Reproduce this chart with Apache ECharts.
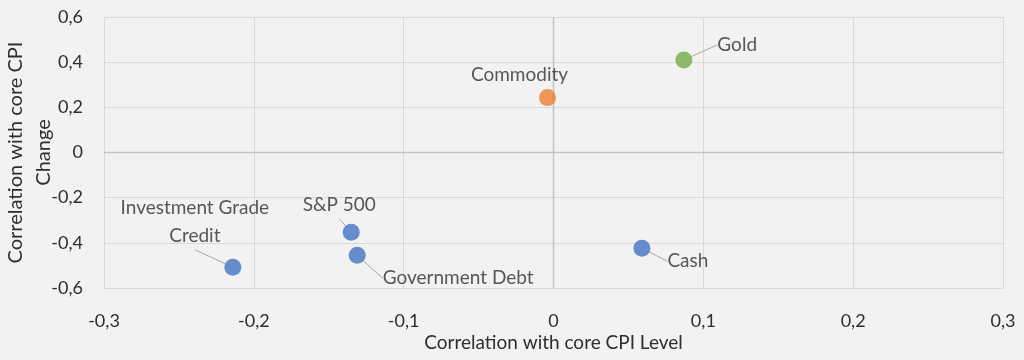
<!DOCTYPE html>
<html>
<head>
<meta charset="utf-8">
<script src="https://cdn.jsdelivr.net/npm/echarts@6/dist/echarts.min.js"></script>
<style>
html,body{margin:0;padding:0;background:#f2f2f2;}
#c{width:1024px;height:360px;}
</style>
</head>
<body>
<div id="c"></div>
<script>
const names = ['Investment Grade\nCredit', 'S&P 500', 'Government Debt', 'Cash', 'Commodity', 'Gold'];
const xValues = [-0.214, -0.135, -0.131, 0.059, -0.004, 0.087];
const yValues = [-0.508, -0.353, -0.455, -0.424, 0.243, 0.41];
const pointColors = ['#4472c4', '#4472c4', '#4472c4', '#4472c4', '#ed7d31', '#70ad47'];
const xTicks = [-0.3, -0.2, -0.1, 0, 0.1, 0.2, 0.3];
const yTicks = [-0.6, -0.4, -0.2, 0, 0.2, 0.4, 0.6];

// label placement (layout only)
const labelPos = ['top', 'top', 'right', 'right', 'top', 'right'];
const labelAlign = ['center', 'center', 'left', 'left', 'center', 'left'];
const labelShift = [[-38, -4], [-12, 0], [12, 23], [12, 13], [-28, 5], [20, -15]];
const showLine = [true, true, true, true, false, true];

const fmt = v => String(Math.round(v * 10) / 10).replace('.', ',');
const FONT = 'Lato';
const TXT = '#2e2e2e';

const chart = echarts.init(document.getElementById('c'));
chart.setOption({
  backgroundColor: '#f2f2f2',
  animation: false,
  grid: {left: 104, right: 21, top: 17, bottom: 72, outerBoundsMode: 'none', containLabel: false},
  xAxis: {
    type: 'value', min: xTicks[0], max: xTicks[xTicks.length - 1], interval: 0.1,
    name: 'Correlation with core CPI Level', nameLocation: 'middle', nameGap: 45, nameMoveOverlap: false,
    nameTextStyle: {fontFamily: FONT, fontSize: 19, color: TXT},
    axisLine: {show: false}, axisTick: {show: false},
    axisLabel: {formatter: fmt, fontFamily: FONT, fontSize: 18, color: TXT, margin: 24},
    splitLine: {show: true, lineStyle: {color: '#d9d9d9', width: 1}}
  },
  yAxis: {
    type: 'value', min: yTicks[0], max: yTicks[yTicks.length - 1], interval: 0.2,
    name: 'Correlation with core CPI\nChange', nameLocation: 'middle', nameGap: 46, nameRotate: 90, nameMoveOverlap: false,
    nameTextStyle: {fontFamily: FONT, fontSize: 20, color: TXT, lineHeight: 28, align: 'center'},
    axisLine: {show: false}, axisTick: {show: false},
    axisLabel: {formatter: fmt, fontFamily: FONT, fontSize: 18, color: TXT, margin: 21},
    splitLine: {show: true, lineStyle: {color: '#d9d9d9', width: 1}}
  },
  series: [
    {
      type: 'line', data: [[0, yTicks[0]], [0, yTicks[yTicks.length - 1]]], symbol: 'none', silent: true,
      lineStyle: {color: '#c4c4c4', width: 1.5}, z: 1
    },
    {
      type: 'line', data: [[xTicks[0], 0], [xTicks[xTicks.length - 1], 0]], symbol: 'none', silent: true,
      lineStyle: {color: '#c4c4c4', width: 1.5}, z: 1
    },
    {
      type: 'scatter', symbolSize: 17, z: 3,
      data: names.map((n, i) => ({
        name: n, value: [xValues[i], yValues[i]],
        itemStyle: {color: pointColors[i]},
        label: {position: labelPos[i], align: labelAlign[i]},
        labelLine: {show: showLine[i]}
      })),
      label: {
        show: true, formatter: p => p.name, fontFamily: FONT, fontSize: 19, color: TXT,
        lineHeight: 28, distance: 5
      },
      labelLine: {show: true, lineStyle: {color: '#a6a6a6', width: 1}},
      labelLayout: p => ({dx: labelShift[p.dataIndex][0], dy: labelShift[p.dataIndex][1]})
    }
  ]
});
</script>
</body>
</html>
